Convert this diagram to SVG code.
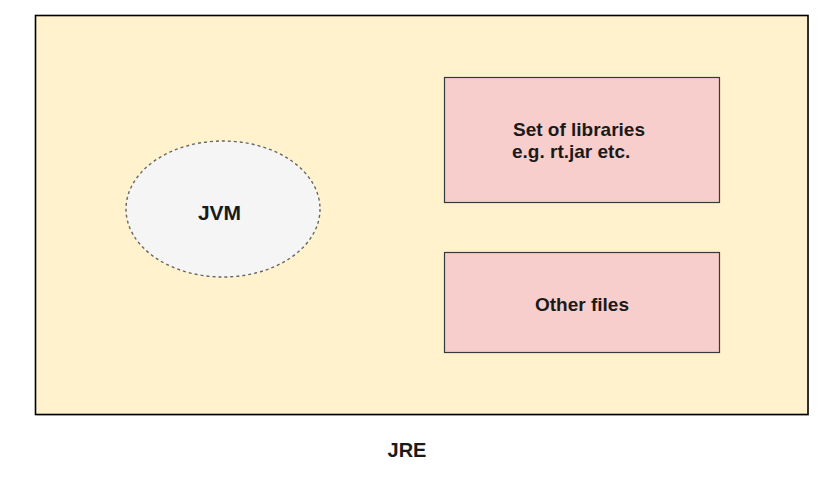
<svg xmlns="http://www.w3.org/2000/svg" width="828" height="483" viewBox="0 0 828 483">
  <style>
    .lbl { font-family: "Liberation Sans", Arial, Helvetica, sans-serif; font-weight: bold; fill: #1a1a1a; }
    .box { fill: #f8cecc; stroke: #36393d; stroke-width: 1.2; }
  </style>
  <rect x="0" y="0" width="828" height="483" fill="#ffffff"/>
  <g id="jre">
    <rect x="37" y="17" width="772" height="399" fill="#c8c8c8" opacity="0.6"/>
    <rect x="35.5" y="15.5" width="772.5" height="399" fill="#fff2cc" stroke="#000000" stroke-width="1.6"/>
    <text class="lbl" x="407" y="457" font-size="20" text-anchor="middle">JRE</text>
  </g>
  <g id="jvm">
    <ellipse cx="223" cy="209" rx="97" ry="68" fill="#f5f5f5" stroke="#666666" stroke-width="1.4" stroke-dasharray="3 3"/>
    <text class="lbl" x="219.5" y="220" font-size="21" text-anchor="middle">JVM</text>
  </g>
  <g id="libraries">
    <rect class="box" x="444.5" y="77.5" width="275" height="125"/>
    <text class="lbl" x="513" y="136" font-size="19">Set of libraries</text>
    <text class="lbl" x="512" y="158" font-size="19">e.g. rt.jar etc.</text>
  </g>
  <g id="other-files">
    <rect class="box" x="444.5" y="252.5" width="275" height="100"/>
    <text class="lbl" x="582" y="311" font-size="19" text-anchor="middle">Other files</text>
  </g>
  <g id="connectors"></g>
</svg>
